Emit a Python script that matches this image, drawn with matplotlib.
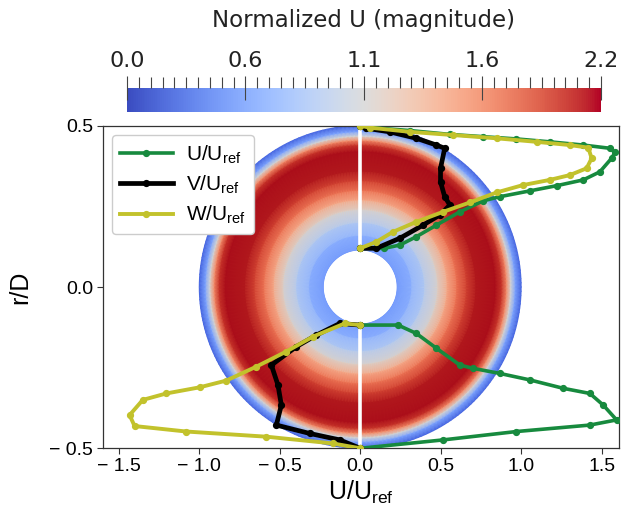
import numpy as np
import matplotlib
matplotlib.use("Agg")
import matplotlib.pyplot as plt
from matplotlib.ticker import FixedLocator
from matplotlib.colors import ListedColormap, Normalize
from matplotlib.cm import ScalarMappable

plt.rcParams['font.family'] = ['Liberation Sans', 'DejaVu Sans']
plt.rcParams['mathtext.fontset'] = 'custom'
plt.rcParams['mathtext.rm'] = 'Liberation Sans'
plt.rcParams['mathtext.it'] = 'Liberation Sans:italic'

# radial profile of the normalized velocity magnitude over the annulus
field_r = [0.115, 0.16, 0.20, 0.24, 0.27, 0.30, 0.33, 0.36, 0.42, 0.44, 0.455, 0.468, 0.482, 0.50]
field_mag = [0.52, 0.70, 0.90, 1.15, 1.45, 1.72, 1.95, 2.12, 2.15, 2.00, 1.60, 1.10, 0.60, 0.25]

# velocity profiles (x = component / U_ref, y = r/D)
u_x = [0.0, 0.15, 0.246, 0.349, 0.474, 0.619, 0.764, 0.868, 1.054, 1.22, 1.386, 1.489, 1.562, 1.583,
       1.552, 1.386, 1.178, 0.971, 0.764, 0.557, 0.308, 0.04, 0.0,
       None,
       0.0, 0.235, 0.349, 0.474, 0.619, 0.70, 0.868, 1.054, 1.261, 1.427, 1.51, 1.593,
       1.427, 0.971, 0.515, 0.0]
u_y = [0.12, 0.12, 0.130, 0.156, 0.192, 0.233, 0.267, 0.28, 0.298, 0.314, 0.332, 0.357, 0.399, 0.417,
       0.43, 0.44, 0.45, 0.459, 0.466, 0.473, 0.485, 0.495, 0.5,
       None,
       -0.118, -0.118, -0.144, -0.19, -0.242, -0.252, -0.268, -0.288, -0.314, -0.33, -0.366, -0.412,
       -0.428, -0.448, -0.474, -0.5]

v_x = [0.0, 0.10, 0.246, 0.391, 0.494, 0.557, 0.525, 0.499, 0.499, 0.525, 0.474, 0.349, 0.183, 0.039, 0.0,
       None,
       0.0, -0.127, -0.272, -0.397, -0.552, -0.511, -0.49, -0.521, -0.314, -0.127, 0.0]
v_y = [0.12, 0.12, 0.151, 0.192, 0.223, 0.254, 0.28, 0.326, 0.368, 0.43, 0.44, 0.461, 0.481, 0.492, 0.5,
       None,
       -0.118, -0.113, -0.149, -0.185, -0.242, -0.304, -0.366, -0.428, -0.454, -0.474, -0.5]

w_x = [0.0, 0.10, 0.204, 0.349, 0.515, 0.681, 0.847, 1.012, 1.178, 1.303, 1.407, 1.438, 1.417,
       1.303, 1.096, 0.847, 0.577, 0.308, 0.059, 0.0,
       None,
       0.0, -0.096, -0.294, -0.459, -0.646, -0.832, -0.998, -1.205, -1.351, -1.433, -1.402,
       -1.081, -0.583, -0.169, 0.0]
w_y = [0.12, 0.14, 0.171, 0.202, 0.233, 0.262, 0.293, 0.316, 0.332, 0.347, 0.368, 0.399, 0.432,
       0.44, 0.45, 0.461, 0.471, 0.481, 0.494, 0.5,
       None,
       -0.118, -0.113, -0.154, -0.2, -0.247, -0.29, -0.311, -0.33, -0.35, -0.397, -0.431,
       -0.448, -0.464, -0.485, -0.5]

xticks = [-1.5, -1.0, -0.5, 0.0, 0.5, 1.0, 1.5]
xtick_labels = ['\u2212 1.5', '\u2212 1.0', '\u2212 0.5', '0.0', '0.5', '1.0', '1.5']
yticks = [-0.5, 0.0, 0.5]
ytick_labels = ['\u2212 0.5', '0.0', '0.5']
cbar_ticks = [0.0, 0.55, 1.1, 1.65, 2.2]
cbar_labels = ['0.0', '0.6', '1.1', '1.6', '2.2']

vmin, vmax = 0.0, 2.2
base = plt.get_cmap('coolwarm')
# slightly shaded copy of the map for the surface itself
shaded = base(np.linspace(0, 1, 256))
shaded[:, :3] = shaded[:, :3] ** 1.3
surf_cmap = ListedColormap(shaded)

fig = plt.figure(figsize=(6.24, 5.11), dpi=100)
ax = fig.add_axes([0.1646, 0.1227, 0.8279, 0.6313])

# annulus contour, drawn as an ellipse so it looks round with these limits
r = np.array(field_r)
theta = np.linspace(0, 2 * np.pi, 241)
R, T = np.meshgrid(r, theta, indexing='ij')
X = 2.0 * R * np.cos(T)
Y = R * np.sin(T)
C = np.repeat(np.array(field_mag)[:, None], len(theta), axis=1)
ax.pcolormesh(X, Y, C, cmap=surf_cmap, vmin=vmin, vmax=vmax,
              shading='gouraud', zorder=1, rasterized=True)

ax.axvline(0.0, color='white', lw=2.6, zorder=2)

def to_arr(vals):
    return np.array([np.nan if v is None else v for v in vals], dtype=float)

ax.plot(to_arr(u_x), to_arr(u_y), color='#178a3e', lw=2.6, marker='o', ms=4.2,
        label=r'U/U$_{\rm ref}$', zorder=3)
ax.plot(to_arr(v_x), to_arr(v_y), color='black', lw=3.4, marker='o', ms=4.2,
        label=r'V/U$_{\rm ref}$', zorder=4)
ax.plot(to_arr(w_x), to_arr(w_y), color='#c2c22c', lw=2.8, marker='o', ms=4.2,
        label=r'W/U$_{\rm ref}$', zorder=5)

ax.set_xlim(-1.6, 1.61)
ax.set_ylim(-0.5, 0.5)
ax.set_xticks(xticks, labels=xtick_labels)
ax.set_yticks(yticks, labels=ytick_labels)
ax.tick_params(labelsize=14, color='#333333', length=4, pad=3)
for s in ax.spines.values():
    s.set_color('#333333')
    s.set_linewidth(0.9)
ax.set_xlabel(r'U/U$_{\rm ref}$', fontsize=18, labelpad=3)
ax.set_ylabel('r/D', fontsize=18, labelpad=12)

leg = ax.legend(loc='upper left', fontsize=15, handlelength=2.5, handletextpad=0.65,
                labelspacing=0.38, borderaxespad=0.45, borderpad=0.4,
                framealpha=1.0, fancybox=True)
leg.get_frame().set_edgecolor('#cccccc')

# colour bar along the top
cax = fig.add_axes([0.2035, 0.781, 0.7596, 0.047])
sm = ScalarMappable(norm=Normalize(vmin, vmax), cmap=base)
cb = fig.colorbar(sm, cax=cax, orientation='horizontal')
cb.outline.set_visible(False)
cax.xaxis.set_ticks_position('top')
cax.xaxis.set_label_position('top')
cax.set_xticks(cbar_ticks, labels=cbar_labels)
cax.xaxis.set_minor_locator(FixedLocator(np.arange(0, 41) * 0.055))
cax.tick_params(which='major', direction='inout', length=17, width=0.8,
                color='#444444', labelsize=16, pad=4)
cax.tick_params(which='minor', direction='out', length=8, width=0.8, color='#444444')
for lbl in cax.get_xticklabels():
    lbl.set_family('DejaVu Sans')
    lbl.set_color('#222222')
cax.set_xlabel('Normalized U (magnitude)', fontsize=16.5, family='DejaVu Sans',
               color='#222222', labelpad=17)

fig.savefig('out.png', dpi=100)
